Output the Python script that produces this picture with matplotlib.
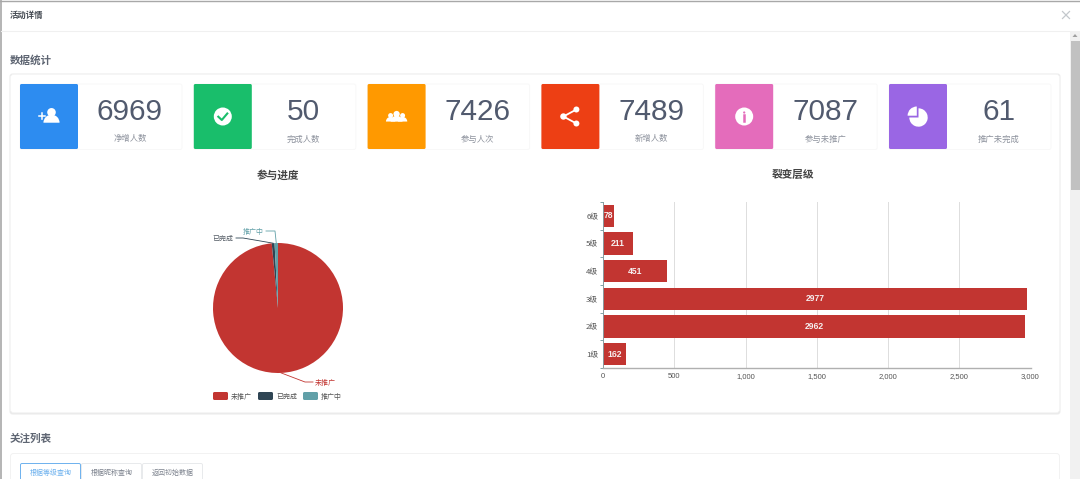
import matplotlib
matplotlib.use("Agg")
import matplotlib.pyplot as plt
import matplotlib.patches as mpatches
import numpy as np

plt.rcParams['font.family'] = ['Noto Sans CJK SC', 'DejaVu Sans']

W, H = 1080, 479

# cards
card_values = ["6969", "50", "7426", "7489", "7087", "61"]
card_labels = ["净增人数", "完成人数", "参与人次", "新增人数", "参与未推广", "推广未完成"]
card_colors = ["#2d8cf0", "#19be6b", "#ff9900", "#ed3f14", "#e46cbb", "#9a66e4"]
card_icons = ["add", "check", "group", "share", "info", "pie"]

# pie
pie_names = ["未推广", "已完成", "推广中"]
pie_values = [7087, 50, 61]
pie_colors = ["#c23531", "#2f4554", "#61a0a8"]

# bars
level_names = ["1级", "2级", "3级", "4级", "5级", "6级"]
level_values = [162, 2962, 2977, 451, 211, 78]
x_ticks = [0, 500, 1000, 1500, 2000, 2500, 3000]

tab_labels = ["根据等级查询", "根据昵称查询", "返回初始数据"]


def px_axes(fig, left, top, right, bottom):
    return fig.add_axes([left / W, 1 - bottom / H, (right - left) / W, (bottom - top) / H])


def box(ax, x0, y0, x1, y1, fc, ec="none", lw=0.8, r=1.5, z=2):
    p = mpatches.FancyBboxPatch((x0 + r, y0 + r), x1 - x0 - 2 * r, y1 - y0 - 2 * r,
                                boxstyle=f"round,pad={r},rounding_size={r}",
                                fc=fc, ec=ec, lw=lw, zorder=z)
    ax.add_patch(p)


def circle(ax, x, y, r, fc, z=4):
    ax.add_patch(mpatches.Circle((x, y), r, fc=fc, ec="none", zorder=z))


def person(ax, x, y, s, fc="white", z=4):
    circle(ax, x, y - 2.6 * s, 3.3 * s, fc, z)
    ax.add_patch(mpatches.Wedge((x, y + 5.4 * s), 6.2 * s, 180, 360, fc=fc, ec="none", zorder=z))


def draw_icon(ax, kind, x, y, bg):
    if kind == "add":
        person(ax, x + 2.5, y - 0.8, 1.3)
        ax.plot([x - 10.5, x - 4.5], [y - 1, y - 1], color="white", lw=1.1, zorder=4)
        ax.plot([x - 7.5, x - 7.5], [y - 4, y + 2], color="white", lw=1.1, zorder=4)
    elif kind == "check":
        circle(ax, x, y, 9, "white")
        ax.plot([x - 4.5, x - 1, x + 4.5], [y + 0.2, y + 3.5, y - 3], color=bg, lw=1.5, zorder=5)
    elif kind == "group":
        person(ax, x - 6, y + 1, 0.75)
        person(ax, x + 6, y + 1, 0.75)
        person(ax, x, y, 0.95)
    elif kind == "share":
        a, b, c = (x - 7, y), (x + 6, y - 7), (x + 6, y + 7)
        ax.plot([b[0], a[0], c[0]], [b[1], a[1], c[1]], color="white", lw=1.3, zorder=4)
        for pt, r in ((a, 3.2), (b, 3), (c, 3)):
            circle(ax, pt[0], pt[1], r, "white")
    elif kind == "info":
        circle(ax, x, y, 9, "white")
        circle(ax, x, y - 4, 1.1, bg, z=5)
        ax.plot([x, x], [y - 1.2, y + 4.8], color=bg, lw=1.8, zorder=5)
    elif kind == "pie":
        # axes y is flipped, so the quarter wedge angles read clockwise on screen
        ax.add_patch(mpatches.Wedge((x + 0.5, y + 1), 9.2, 270, 180, fc="white", ec="none", zorder=4))
        ax.add_patch(mpatches.Wedge((x - 1.2, y - 0.8), 9.2, 180, 270, fc="white", ec="none", zorder=4))


fig = plt.figure(figsize=(W / 100, H / 100), dpi=100, facecolor="white")

# page layer in pixel coordinates
page = fig.add_axes([0, 0, 1, 1])
page.set_xlim(0, W)
page.set_ylim(H, 0)
page.axis("off")

# modal edges
page.plot([0, W], [0.5, 0.5], color="#a8a8a8", lw=1, zorder=1)
page.plot([0.5, 0.5], [0, H], color="#a8a8a8", lw=1.2, zorder=1)
page.plot([1, 1070], [30.5, 30.5], color="#f0f0f0", lw=0.8, zorder=1)
page.text(10, 15, "活动详情", fontsize=6, fontweight="bold", color="#444a52", va="center")
page.plot([1062.5, 1069.5], [11.5, 18.5], color="#c4c8cc", lw=0.9)
page.plot([1062.5, 1069.5], [18.5, 11.5], color="#c4c8cc", lw=0.9)

# scrollbar
page.add_patch(mpatches.Rectangle((1070, 31), 10, H - 31, fc="#f1f1f1", ec="none"))
page.add_patch(mpatches.Rectangle((1071, 41), 8.5, 149, fc="#c1c1c1", ec="none"))
page.add_patch(mpatches.Polygon([[1075, 34], [1072.5, 37], [1077.5, 37]], fc="#a0a0a0", ec="none"))

# section headings and panels
page.text(10, 60, "数据统计", fontsize=7.6, fontweight="bold", color="#5f6673", va="center")
box(page, 9.5, 73.5, 1060.5, 414.5, "#ebebeb", r=3, z=1)
box(page, 10.5, 74.5, 1059.5, 412.5, "white", ec="#f5f5f5", lw=0.5, r=3, z=1.5)
page.text(10, 439, "关注列表", fontsize=7.6, fontweight="bold", color="#5f6673", va="center")
box(page, 10.5, 453.5, 1059.5, 490, "white", ec="#f2f2f2", lw=0.7, r=3, z=1.5)

# cards
step = 173.8
for i, (val, lab, col, icon) in enumerate(zip(card_values, card_labels, card_colors, card_icons)):
    x0 = 20 + i * step
    box(page, x0, 84, x0 + 162, 149.5, "white", ec="#f8f8f8", lw=0.7, r=2)
    box(page, x0, 84, x0 + 58, 149, col, r=1.5, z=3)
    draw_icon(page, icon, x0 + 29, 116.5, col)
    page.text(x0 + 110, 111.5, val, fontsize=21.4, family="Liberation Sans", color="#515a6e",
              ha="center", va="center", zorder=4)
    page.text(x0 + 110, 139, lab, fontsize=6, color="#8c919c", ha="center", va="center", zorder=4)

# chart titles
page.text(278, 175, "参与进度", fontsize=7.7, fontweight="bold", color="#444444", ha="center", va="center")
page.text(793, 175, "裂变层级", fontsize=7.7, fontweight="bold", color="#444444", ha="center", va="center")

# pie chart
pie_cx, pie_cy, pie_r = 278, 308, 65
ax_pie = px_axes(fig, pie_cx - pie_r, pie_cy - pie_r, pie_cx + pie_r, pie_cy + pie_r)
ax_pie.pie(pie_values, colors=pie_colors, startangle=90, counterclock=False,
           wedgeprops={"linewidth": 0})
ax_pie.set_xlim(-1, 1)
ax_pie.set_ylim(-1, 1)

# leader lines follow the slice mid angles
total = sum(pie_values)
ends = np.cumsum(pie_values)
mids = (ends - np.array(pie_values) / 2) / total * 2 * np.pi
sx = pie_cx + pie_r * np.sin(mids)
sy = pie_cy - pie_r * np.cos(mids)
page.plot([sx[0], 305, 313], [sy[0], 382, 382], color=pie_colors[0], lw=0.6, zorder=6)
page.text(315, 382.5, pie_names[0], fontsize=5, color=pie_colors[0], va="center")
page.plot([sx[1], 243, 236], [sy[1], 238, 238], color=pie_colors[1], lw=0.6, zorder=6)
page.text(233.5, 238.5, pie_names[1], fontsize=5, color="#555d66", va="center", ha="right")
page.plot([sx[2], 275, 266], [sy[2], 231, 231], color=pie_colors[2], lw=0.6, zorder=6)
page.text(263.5, 231.5, pie_names[2], fontsize=5, color=pie_colors[2], va="center", ha="right")

# pie legend
leg_x = [213, 258, 303]
for x, name, col in zip(leg_x, pie_names, pie_colors):
    box(page, x, 392, x + 15, 400, col, r=1.5, z=3)
    page.text(x + 18, 396.5, name, fontsize=5, color="#555555", va="center")

# bar chart
ax_bar = px_axes(fig, 603, 202, 1030.5, 368)
y_pos = np.arange(len(level_names))
ax_bar.set_axisbelow(True)
ax_bar.barh(y_pos, level_values, height=0.8, color="#c23531")
ax_bar.set_xlim(0, 3000)
ax_bar.set_ylim(-0.5, 5.5)
ax_bar.set_xticks(x_ticks)
ax_bar.set_xticklabels([f"{t:,}" for t in x_ticks], fontsize=5.5, color="#555555",
                       family="Liberation Sans")
ax_bar.set_yticks(y_pos)
ax_bar.set_yticklabels(level_names, fontsize=5.6, color="#555555")
ax_bar.set_yticks(np.arange(-0.5, 6), minor=True)
ax_bar.tick_params(axis="y", which="major", length=0, pad=3.5)
ax_bar.tick_params(axis="y", which="minor", length=2.2, width=0.7, color="#7fa6aa")
ax_bar.tick_params(axis="x", length=0, pad=3.8)
ax_bar.grid(axis="x", color="#dddddd", lw=0.7)
for name in ("top", "right"):
    ax_bar.spines[name].set_visible(False)
ax_bar.spines["left"].set_color("#8a9a9e")
ax_bar.spines["left"].set_linewidth(0.7)
ax_bar.spines["bottom"].set_color("#b0b0b0")
ax_bar.spines["bottom"].set_linewidth(1.0)
for y, v in zip(y_pos, level_values):
    ax_bar.text(v / 2, y, str(v), fontsize=6.2, fontweight="bold", color="#f6eeee",
                family="Liberation Sans", ha="center", va="center")

# tabs
tab_edges = [20, 81, 142, 203]
for i, lab in enumerate(tab_labels):
    active = i == 0
    x0, x1 = tab_edges[i], tab_edges[i + 1]
    box(page, x0 + 0.5, 463.5, x1 - 0.5, 490, "white",
        ec="#6db1ee" if active else "#e8eaec", lw=0.7, r=1.5, z=3 if active else 2)
    page.text((x0 + x1) / 2, 472.5, lab, fontsize=5, color="#6db1ee" if active else "#7d838e",
              ha="center", va="center", zorder=4)

page.set_xlim(0, W)
page.set_ylim(H, 0)
fig.savefig("out.png", dpi=100, facecolor="white")
